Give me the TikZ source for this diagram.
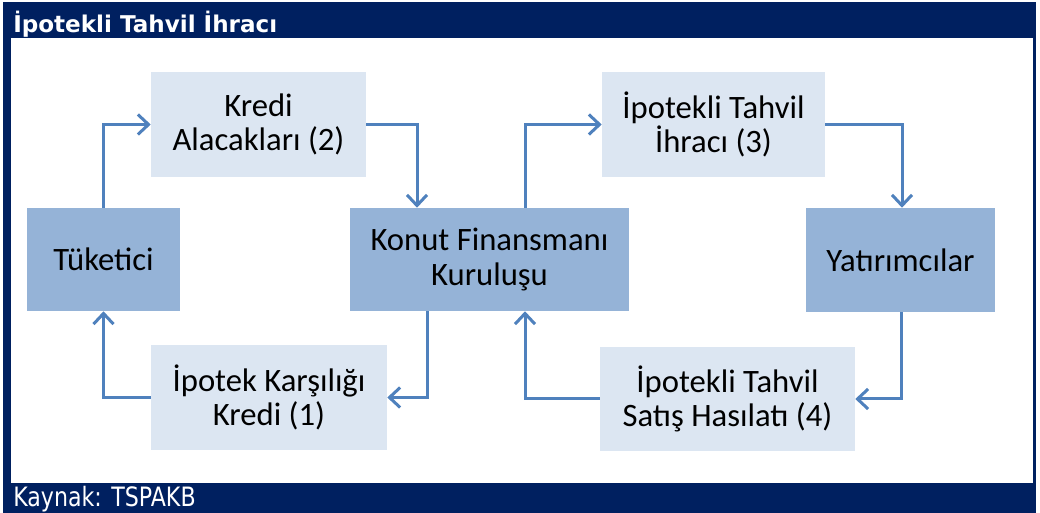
\documentclass[tikz,border=0pt]{standalone}
\usepackage{fontspec}
\setmainfont{Carlito}
\newfontfamily\titlefont{DejaVu Sans}
\newfontfamily\notefont[FakeStretch=0.83]{DejaVu Sans}
\usetikzlibrary{positioning, calc, arrows.meta}

\definecolor{navy}{HTML}{002060}
\definecolor{boxlight}{HTML}{DCE6F2}
\definecolor{boxdark}{HTML}{95B3D7}
\definecolor{arrowblue}{HTML}{4F81BD}

\begin{document}
\begin{tikzpicture}[x=0.75pt, y=-0.75pt, box/.style={rectangle, align=center, inner sep=0pt, text=black, font=\fontsize{24.5}{26}\selectfont}, lightbox/.style={box, fill=boxlight}, darkbox/.style={box, fill=boxdark}, flow/.style={->, line width=2.25pt, draw=arrowblue}, >={Straight Barb[length=8pt, width=15pt]}]
        \useasboundingbox (0,0) rectangle (1040,513);

        % Frame
        \fill[navy] (3,2) rectangle (1036,513);
        \fill[white] (11,38) rectangle (1033,483);
        \node[anchor=base west, inner sep=0pt, text=white, font=\titlefont\bfseries\fontsize{17.3}{19}\selectfont] (title) at (13,33) {İpotekli Tahvil İhracı};
        \node[anchor=base west, inner sep=0pt, text=white, font=\notefont\fontsize{20}{22}\selectfont] (source) at (13,507) {Kaynak: TSPAKB};

        % Nodes
        \node[darkbox, minimum width=114.75pt, minimum height=77.25pt] (tuketici) at (103.5,259.5) {Tüketici};
        \node[lightbox, minimum width=161.25pt, minimum height=78.75pt] (kredi) at (258.5,124.5) {Kredi\\Alacakları (2)};
        \node[lightbox, minimum width=177pt, minimum height=78.75pt] (ipotek) at (269,397.5) {İpotek Karşılığı\\Kredi (1)};
        \node[darkbox, minimum width=209.25pt, minimum height=77.25pt] (konut) at (489.5,259.5) {Konut Finansmanı\\Kuruluşu};
        \node[lightbox, minimum width=167.25pt, minimum height=78.75pt] (ihrac) at (713.5,124.5) {İpotekli Tahvil\\İhracı (3)};
        \node[darkbox, minimum width=141.75pt, minimum height=78pt] (yatirim) at (900.5,260) {Yatırımcılar};
        \node[lightbox, minimum width=191.25pt, minimum height=78pt] (satis) at (727.5,399) {İpotekli Tahvil\\Satış Hasılatı (4)};

        % Connectors
        \draw[flow] (tuketici.north) |- (kredi.west);
        \draw[flow] (kredi.east) -| ($(konut.north)+(-72.5,0)$);
        \draw[flow] ($(konut.south)+(-62.5,0)$) |- (ipotek.east);
        \draw[flow] (ipotek.west) -| (tuketici.south);
        \draw[flow] ($(konut.north)+(35.5,0)$) |- (ihrac.west);
        \draw[flow] (ihrac.east) -| ($(yatirim.north)+(1.5,0)$);
        \draw[flow] ($(yatirim.south)+(0.5,0)$) |- (satis.east);
        \draw[flow] (satis.west) -| ($(konut.south)+(35.5,0)$);

        \end{tikzpicture}
\end{document}
